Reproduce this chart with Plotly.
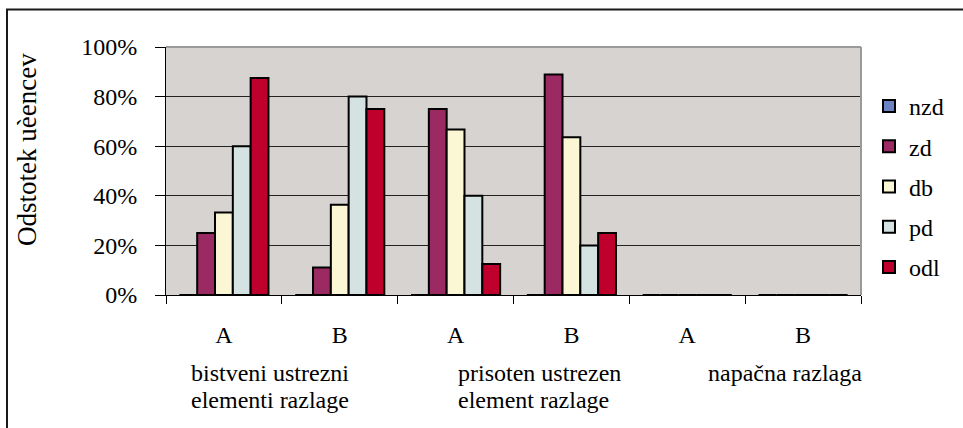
import plotly.graph_objects as go

# ---- data ----
sub_labels = ["A", "B", "A", "B", "A", "B"]
group_labels = [
    ["bistveni ustrezni", "elementi razlage"],
    ["prisoten ustrezen", "element razlage"],
    ["napačna razlaga"],
]
series_names = ["nzd", "zd", "db", "pd", "odl"]
nzd = [0, 0, 0, 0, 0, 0]
zd = [25.0, 11.1, 75.0, 88.9, 0, 0]
db = [33.3, 36.4, 66.7, 63.6, 0, 0]
pd_ = [60.0, 80.0, 40.0, 20.0, 0, 0]
odl = [87.5, 75.0, 12.5, 25.0, 0, 0]
y_ticks = [0, 20, 40, 60, 80, 100]
y_title = "Odstotek uèencev"

colors = ["#6B83C3", "#9B2A62", "#FBF7D5", "#D4E3E1", "#C0002C"]
values = [nzd, zd, db, pd_, odl]

# unique category keys so repeated A/B labels stay separate
keys = [f"g{i // 2}-{lab}" for i, lab in enumerate(sub_labels)]

FONT = "Liberation Serif"

fig = go.Figure()
for name, vals, col in zip(series_names, values, colors):
    fig.add_trace(go.Bar(
        x=keys, y=[v / 100 for v in vals], name=name,
        marker=dict(color=col, line=dict(color="#000000", width=2)),
        legendgroup=name,
    ))

W, H = 963, 428
L, R, T, B = 166, 102, 47, 133
pw, ph = W - L - R, H - T - B

def px_x(x):
    return (x - L) / pw

def px_y(y):
    return (H - B - y) / ph

fig.update_layout(
    width=W, height=H,
    margin=dict(l=L, r=R, t=T, b=B, autoexpand=False),
    paper_bgcolor="#FFFFFF",
    plot_bgcolor="#D7D3D0",
    barmode="group",
    bargap=1.5 / 6.5,
    bargroupgap=0,
    font=dict(family=FONT, size=24, color="#000000"),
    showlegend=True,
    legend=dict(
        x=px_x(869), xanchor="left",
        y=px_y(84), yanchor="top",
        font=dict(family=FONT, size=24, color="#000000"),
        bgcolor="rgba(0,0,0,0)",
        tracegroupgap=6,
        traceorder="grouped",
    ),
    xaxis=dict(
        type="category",
        tickvals=keys, ticktext=sub_labels,
        tickson="boundaries",
        ticks="outside", ticklen=8, tickcolor="#000000", tickwidth=1,
        showline=True, linecolor="#000000", linewidth=1,
        showgrid=False, zeroline=False,
        ticklabelstandoff=18,
        tickfont=dict(family=FONT, size=24),
    ),
    yaxis=dict(
        range=[0, 1],
        tickvals=[t / 100 for t in y_ticks],
        ticktext=[f"{t}%" for t in y_ticks],
        ticks="outside", ticklen=10, tickcolor="#000000", tickwidth=1,
        showline=True, linecolor="#000000", linewidth=1,
        showgrid=True, gridcolor="#222222", gridwidth=1,
        zeroline=False,
        ticklabelstandoff=13,
        tickfont=dict(family=FONT, size=24),
    ),
)

annotations = [
    dict(text=y_title, xref="paper", yref="paper",
         x=px_x(27), y=px_y(150), xanchor="center", yanchor="middle",
         textangle=-90, showarrow=False,
         font=dict(family=FONT, size=27)),
]
group_left_px = [189, 456, 706]
line_center_px = [373, 400]
for gl, lines in zip(group_left_px, group_labels):
    for li, txt in enumerate(lines):
        annotations.append(dict(
            text=txt, xref="paper", yref="paper",
            x=px_x(gl), y=px_y(line_center_px[li]),
            xanchor="left", yanchor="middle", showarrow=False,
            font=dict(family=FONT, size=24)))
fig.update_layout(annotations=annotations)

shapes = [
    # plot-area top & right edges (gray)
    dict(type="line", xref="paper", yref="paper", x0=0, x1=1, y0=1, y1=1,
         line=dict(color="#9A9A9A", width=2), layer="above"),
    dict(type="line", xref="paper", yref="paper", x0=1, x1=1, y0=0, y1=1,
         line=dict(color="#9A9A9A", width=2), layer="above"),
    # outer chart border
    dict(type="rect", xref="paper", yref="paper",
         x0=px_x(7), x1=px_x(980), y0=px_y(9.5), y1=px_y(450),
         line=dict(color="#1A1A1A", width=2), layer="above"),
]
fig.update_layout(shapes=shapes)

fig.write_html("out.html", config={"displayModeBar": False},
               post_script="document.body.style.margin='0';")
